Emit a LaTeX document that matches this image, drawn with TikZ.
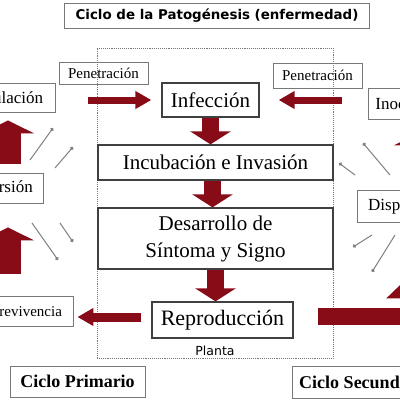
\documentclass[tikz,border=0pt]{standalone}
\usepackage{fontspec}
\setmainfont{Liberation Serif}
\newfontfamily\comic{DejaVu Sans}
\usetikzlibrary{arrows.meta,calc}
\definecolor{arrowred}{RGB}{135,12,24}
\definecolor{boxgray}{RGB}{120,120,120}
\tikzset{
  graybox/.style={draw=boxgray,line width=0.9pt,inner sep=0pt,align=center},
  blackbox/.style={draw=black!75,line width=1.3pt,inner sep=0pt,align=center,fill=white},
  hbig/.style={draw=arrowred,line width=7pt,-{Triangle[width=17pt,length=16pt]}},
  vbig/.style={draw=arrowred,line width=17pt,-{Triangle[width=40pt,length=13pt]}},
  upbig/.style={draw=arrowred,line width=26pt,-{Triangle[width=52pt,length=13pt]}},
  thinarr/.style={draw=black!50,line width=1pt,-{Circle[length=3.5pt]}},
}
\begin{document}
\begin{tikzpicture}[x=1pt,y=-1pt]
\useasboundingbox (0,0) rectangle (400,400);
\clip (0,0) rectangle (400,400);
\fill[white] (0,0) rectangle (400,400);
% title
\node[graybox,minimum width=305pt,minimum height=25pt,font=\comic\bfseries\fontsize{13.4}{15}\selectfont] (title) at (217,15.5) {Ciclo de la Patogénesis (enfermedad)};
% plant box
\node[draw=boxgray,densely dotted,line width=0.9pt,minimum width=236pt,minimum height=310pt,inner sep=0pt] (planta) at (215,203) {};
\node[font=\comic\fontsize{12.5}{14}\selectfont,inner sep=0pt] (plantalbl) at (215,351) {Planta};
% boxes
\node[graybox,minimum width=89pt,minimum height=22pt,font=\fontsize{15}{17}\selectfont] (penL) at (103.5,73) {Penetración};
\node[graybox,minimum width=89pt,minimum height=25pt,font=\fontsize{15}{17}\selectfont] (penR) at (317.5,75.5) {Penetración};
\node[blackbox,minimum width=97pt,minimum height=34pt,font=\fontsize{21}{23}\selectfont] (inf) at (210.5,100) {Infección};
\node[blackbox,minimum width=235pt,minimum height=35pt,font=\fontsize{21}{23}\selectfont] (inc) at (215.5,162.5) {Incubación e Invasión};
\node[blackbox,minimum width=235pt,minimum height=61pt,font=\fontsize{21}{27}\selectfont] (des) at (215.5,238.5) {Desarrollo de\\Síntoma y Signo};
\node[blackbox,minimum width=141pt,minimum height=36pt,font=\fontsize{22}{24}\selectfont] (rep) at (222.5,320) {Reproducción};
\node[graybox,minimum width=104pt,minimum height=29pt,font=\fontsize{17}{19}\selectfont] (inocL) at (3,97.5) {Inoculación};
\node[graybox,minimum width=94pt,minimum height=30pt,font=\fontsize{17}{19}\selectfont] (dispL) at (-4,188) {Dispersión};
\node[graybox,minimum width=108pt,minimum height=30pt,font=\fontsize{15}{17}\selectfont] (sobre) at (19,311) {Sobrevivencia};
\node[graybox,minimum width=95pt,minimum height=31pt,font=\fontsize{17}{19}\selectfont] (inocR) at (415.5,104) {Inoculación};
\node[graybox,minimum width=96pt,minimum height=32pt,font=\fontsize{17}{19}\selectfont] (dispR) at (405,206) {Dispersión};
\node[graybox,minimum width=135pt,minimum height=31pt,font=\bfseries\fontsize{18}{20}\selectfont] (cicloP) at (77.5,381.5) {Ciclo Primario};
\node[graybox,minimum width=146pt,minimum height=32pt,font=\bfseries\fontsize{18}{20}\selectfont] (cicloS) at (365,382) {Ciclo Secundario};
% big arrows
\draw[hbig,shorten <=33pt,shorten >=10pt] (inocL.east |- inf.west) -- (inf.west);
\draw[hbig,shorten <=26pt,shorten >=19pt] (inocR.west |- inf.east) -- (inf.east);
\draw[vbig] (inf.south) -- (inf.south |- inc.north);
\draw[vbig] ($(inc.south)+(-3,0)$) -- ($(des.north)+(-3,0)$);
\draw[vbig] (des.south) -- (des.south |- rep.north);
\coordinate (repW) at ($(rep.west)+(0,-3)$);
\draw[hbig,line width=9pt,shorten <=10pt,shorten >=4pt] (repW) -- (sobre.east |- repW);
\coordinate (cornerR) at (413,316);
\draw[draw=arrowred,line width=17pt,-{Triangle[width=52pt,length=26pt]},shorten >=50pt] ($(rep.east)+(24,-4)$) -- (cornerR) -- (cornerR |- dispR.south);
\draw[upbig,shorten >=12pt] ($(dispR.north)+(16,0)$) -- ($(inocR.south)+(4.5,0)$);
\draw[upbig,shorten <=9pt,shorten >=8pt] ($(dispL.north)+(12,0)$) -- ($(inocL.south)+(5,0)$);
\draw[upbig,shorten <=22pt,shorten >=24pt] ($(sobre.north)+(-11,0)$) -- ($(dispL.south)+(12,0)$);
% thin dotted arrows
\coordinate (t1a) at (30,160); \coordinate (t1b) at (53,128);
\coordinate (t2a) at (55,168); \coordinate (t2b) at (73,147);
\coordinate (t3a) at (32,223); \coordinate (t3b) at (58,260);
\coordinate (t4a) at (60,223); \coordinate (t4b) at (73,242);
\coordinate (t5a) at (390,175); \coordinate (t5b) at (363,143);
\coordinate (t6a) at (355,175); \coordinate (t6b) at (339,163);
\coordinate (t7a) at (372,235); \coordinate (t7b) at (353,247);
\coordinate (t8a) at (395,235); \coordinate (t8b) at (372,272);
\foreach \i in {1,...,8} {\draw[thinarr] (t\i a) -- (t\i b);}
\end{tikzpicture}
\end{document}
